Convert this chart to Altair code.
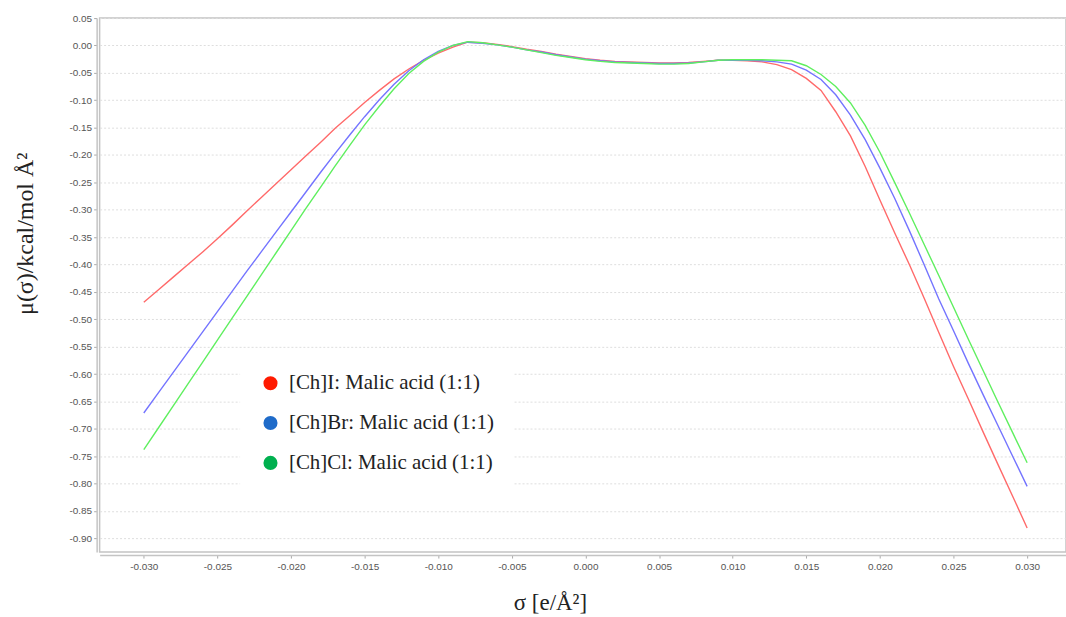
import altair as alt
import pandas as pd

sigma = [round(-0.030 + 0.001 * i, 3) for i in range(61)]

mu_I = [-0.469, -0.446, -0.423, -0.400, -0.377, -0.353, -0.328, -0.302, -0.277, -0.252,
        -0.227, -0.202, -0.177, -0.151, -0.128, -0.104, -0.082, -0.061, -0.043, -0.027,
        -0.014, -0.003, 0.006, 0.005, 0.002, -0.002, -0.007, -0.011, -0.016, -0.020,
        -0.024, -0.027, -0.029, -0.030, -0.031, -0.032, -0.032, -0.031, -0.029, -0.027,
        -0.027, -0.028, -0.030, -0.035, -0.044, -0.060, -0.082, -0.121, -0.165, -0.221,
        -0.282, -0.342, -0.400, -0.461, -0.524, -0.586, -0.645, -0.705, -0.764, -0.822,
        -0.881]

mu_Br = [-0.671, -0.634, -0.597, -0.560, -0.523, -0.486, -0.449, -0.412, -0.376, -0.340,
         -0.304, -0.268, -0.232, -0.197, -0.163, -0.130, -0.099, -0.071, -0.046, -0.026,
         -0.011, 0.000, 0.006, 0.004, 0.001, -0.003, -0.008, -0.012, -0.017, -0.021,
         -0.025, -0.028, -0.030, -0.031, -0.032, -0.033, -0.033, -0.032, -0.030, -0.027,
         -0.027, -0.027, -0.028, -0.030, -0.034, -0.045, -0.062, -0.090, -0.127, -0.172,
         -0.224, -0.279, -0.338, -0.400, -0.463, -0.521, -0.580, -0.637, -0.693, -0.749,
         -0.805]

mu_Cl = [-0.738, -0.698, -0.658, -0.618, -0.578, -0.538, -0.498, -0.458, -0.418, -0.378,
         -0.338, -0.298, -0.259, -0.220, -0.182, -0.145, -0.111, -0.079, -0.051, -0.029,
         -0.012, 0.000, 0.007, 0.005, 0.001, -0.003, -0.008, -0.013, -0.018, -0.022,
         -0.026, -0.029, -0.031, -0.032, -0.033, -0.034, -0.034, -0.033, -0.030, -0.027,
         -0.026, -0.026, -0.026, -0.027, -0.028, -0.037, -0.053, -0.075, -0.105, -0.146,
         -0.195, -0.250, -0.306, -0.363, -0.420, -0.478, -0.536, -0.593, -0.650, -0.706,
         -0.762]

series_names = ["[Ch]I: Malic acid (1:1)", "[Ch]Br: Malic acid (1:1)", "[Ch]Cl: Malic acid (1:1)"]
line_colors = ["#ff6a6a", "#7474ff", "#5fef5f"]
legend_colors = ["#ff1a00", "#1f6bc9", "#00b04f"]

x_ticks = [-0.030, -0.025, -0.020, -0.015, -0.010, -0.005, 0.000, 0.005, 0.010, 0.015, 0.020, 0.025, 0.030]
y_ticks = [0.05, 0.00, -0.05, -0.10, -0.15, -0.20, -0.25, -0.30, -0.35, -0.40, -0.45, -0.50,
           -0.55, -0.60, -0.65, -0.70, -0.75, -0.80, -0.85, -0.90]

rows = []
for name, vals in zip(series_names, [mu_I, mu_Br, mu_Cl]):
    for s, m in zip(sigma, vals):
        rows.append({"sigma": s, "mu": m, "series": name})
df = pd.DataFrame(rows)

x_scale = alt.Scale(domain=[-0.033, 0.03264], nice=False, zero=False)
y_scale = alt.Scale(domain=[-0.925, 0.05], nice=False, zero=False)

x_axis = alt.Axis(
    values=x_ticks,
    tickCount=len(x_ticks),
    labelExpr="replace(format(datum.value, '.3f'), '\u2212', '-')",
    labelOverlap=False,
    grid=False,
    title="σ [e/Å²]",
    titleFont="Liberation Serif",
    titleFontSize=23,
    titleFontWeight="normal",
    titleColor="#222222",
    titleX=452,
    titleY=48,
    titleBaseline="middle",
    titleAlign="center",
    labelFont="Liberation Sans",
    labelFontSize=10,
    labelColor="#555555",
    labelPadding=3,
    tickSize=3,
    tickColor="#aaaaaa",
    domainColor="#c4c4c4",
    domainWidth=1.5,
    offset=3,
)
y_axis = alt.Axis(
    values=y_ticks,
    tickCount=len(y_ticks),
    labelExpr="replace(format(datum.value, '.2f'), '\u2212', '-')",
    labelOverlap=False,
    grid=True,
    gridColor="#dedede",
    gridDash=[2, 2],
    gridWidth=1,
    title="μ(σ)/kcal/mol Å²",
    titleFont="Liberation Serif",
    titleFontSize=24,
    titleFontWeight="normal",
    titleColor="#222222",
    titleAngle=-90,
    titleX=-71,
    titleY=216,
    titleBaseline="middle",
    titleAlign="center",
    labelFont="Liberation Sans",
    labelFontSize=10,
    labelColor="#555555",
    labelPadding=2,
    tickSize=3,
    tickColor="#aaaaaa",
    domainColor="#c4c4c4",
    domainWidth=1.5,
    offset=3,
)

lines = alt.Chart(df).mark_line(strokeWidth=1.4, clip=True).encode(
    x=alt.X("sigma:Q", scale=x_scale, axis=x_axis),
    y=alt.Y("mu:Q", scale=y_scale, axis=y_axis),
    stroke=alt.Stroke("series:N", sort=series_names,
                      scale=alt.Scale(domain=series_names, range=line_colors),
                      legend=None),
    detail="series:N",
)

legend_pts = alt.Chart(df).transform_calculate(
    label="datum.series"
).mark_point(filled=True, opacity=0, size=1).encode(
    x=alt.X("sigma:Q", scale=x_scale, axis=x_axis),
    y=alt.Y("mu:Q", scale=y_scale, axis=y_axis),
    fill=alt.Fill(
        "label:N",
        sort=series_names,
        scale=alt.Scale(domain=series_names, range=legend_colors),
        legend=alt.Legend(
            title=None,
            orient="none",
            legendX=141,
            legendY=336,
            fillColor="white",
            padding=20,
            symbolType="circle",
            symbolSize=200,
            symbolOpacity=1,
            symbolStrokeWidth=0,
            labelFont="Liberation Serif",
            labelFontSize=21,
            labelColor="#222222",
            labelOffset=8,
            rowPadding=18,
            labelLimit=400,
        ),
    ),
)

chart = alt.layer(lines, legend_pts).resolve_scale(
    fill="independent", stroke="independent"
).resolve_legend(
    fill="independent", stroke="independent"
).properties(
    width=970,
    height=536,
    padding={"left": 100, "top": 17, "right": 0, "bottom": 64},
    autosize=alt.AutoSizeParams(type="none"),
    background="white",
).configure_view(
    stroke="#c4c4c4",
    strokeWidth=1.5,
)

chart.save("out.html", embed_options={"renderer": "svg", "actions": False})
